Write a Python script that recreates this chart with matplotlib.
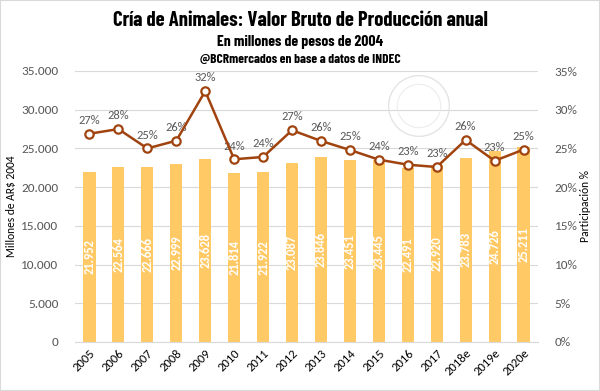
import matplotlib
matplotlib.use("Agg")
import matplotlib.pyplot as plt
from matplotlib.ticker import FuncFormatter, MultipleLocator
from matplotlib.patches import Rectangle, Circle
from matplotlib import font_manager

years = ["2005", "2006", "2007", "2008", "2009", "2010", "2011", "2012", "2013",
         "2014", "2015", "2016", "2017", "2018e", "2019e", "2020e"]
vbp = [21952, 22564, 22666, 22999, 23628, 21814, 21922, 23087, 23846,
       23451, 23445, 22491, 22920, 23783, 24726, 25211]
share = [26.9, 27.5, 25.0, 26.0, 32.4, 23.6, 23.9, 27.35, 25.97,
         24.8, 23.55, 22.9, 22.6, 26.1, 23.4, 24.85]
share_labels = ["27%", "28%", "25%", "26%", "32%", "24%", "24%", "27%", "26%",
                "25%", "24%", "23%", "23%", "26%", "23%", "25%"]

title = "Cría de Animales: Valor Bruto de Producción anual"
subtitle = "En millones de pesos de 2004"
source = "@BCRmercados en base a datos de INDEC"

files = {f.fname.split("/")[-1]: f.fname for f in font_manager.fontManager.ttflist}
names = {f.name for f in font_manager.fontManager.ttflist}
title_file = None
for cand in ("BarlowCondensed-Bold.ttf", "BarlowSemiCondensed-Bold.ttf", "DejaVuSansCondensed-Bold.ttf"):
    if cand in files:
        title_file = files[cand]
        break

body = "Carlito" if "Carlito" in names else "Lato"
plt.rcParams['font.family'] = [body, 'DejaVu Sans']
fs = 9 if body == "Carlito" else 8.5

fig = plt.figure(figsize=(6.0, 3.91), dpi=100)
ax = fig.add_axes([75/600, 1-342/391, (538-75)/600, (342-71)/391])
ax2 = ax.twinx()

grey = "#595959"
bar_c = "#FFC966"
line_c = "#A0430F"

x = list(range(len(years)))
ax.bar(x, vbp, width=0.42, color=bar_c, zorder=2)
for xi, v in zip(x, vbp):
    ax.text(xi, v/2, f"{v:,}".replace(",", "."), rotation=90, ha="center", va="center",
            color="white", fontsize=fs, fontweight="bold", zorder=3)

ax.set_ylim(0, 35000)
ax.set_xlim(-0.5, len(years)-0.5)
ax.yaxis.set_major_locator(MultipleLocator(5000))
ax.yaxis.set_major_formatter(FuncFormatter(lambda v, p: f"{int(v):,}".replace(",", ".")))
ax.grid(axis="y", color="#D9D9D9", linewidth=0.8, zorder=0)
ax.set_axisbelow(True)
ax.set_xticks(x)
ax.set_xticklabels(years, rotation=45, ha="right", rotation_mode="anchor", fontsize=fs, color="black")
ax.tick_params(axis="x", length=0, pad=4)
ax.tick_params(axis="y", length=0, labelsize=fs + 0.5, labelcolor=grey, pad=12)

ax2.plot(x, share, color=line_c, linewidth=1.8, marker="o", markersize=6,
         markerfacecolor="white", markeredgecolor=line_c, markeredgewidth=1.6, zorder=4)
for xi, s, lab in zip(x, share, share_labels):
    ax2.text(xi, s + 1.0, lab, ha="center", va="bottom", fontsize=fs, color=grey)
ax2.set_ylim(0, 35)
ax2.yaxis.set_major_locator(MultipleLocator(5))
ax2.yaxis.set_major_formatter(FuncFormatter(lambda v, p: f"{int(v)}%"))
ax2.tick_params(axis="y", length=0, labelsize=fs + 0.5, labelcolor=grey, pad=12)

for a in (ax, ax2):
    for sp in a.spines.values():
        sp.set_visible(False)
ax.spines["bottom"].set_visible(True)
ax.spines["bottom"].set_color("#D9D9D9")

ax.set_ylabel("Millones de AR$ 2004", fontsize=fs - 0.7, color="black")
ax.yaxis.set_label_coords(-58/463, 0.5)
ax2.set_ylabel("Participación %", fontsize=fs - 0.7, color="black")
ax2.yaxis.set_label_coords(1 + 42/463, 0.5)

# faint seal watermark
seal_ax = fig.add_axes([388/600, 1-137/391, 62/600, 62/391])
seal_ax.set_xlim(-1, 1); seal_ax.set_ylim(-1, 1); seal_ax.axis("off")
seal_ax.set_aspect("equal")
seal_ax.add_patch(Circle((0, 0), 0.98, fill=False, edgecolor="#E4E4E4", linewidth=1.0))
seal_ax.add_patch(Circle((0, 0), 0.70, fill=False, edgecolor="#ECECEC", linewidth=0.8))

renderer = fig.canvas.get_renderer()

def fitted(y, s, target_w, max_size):
    if title_file:
        fp = font_manager.FontProperties(fname=title_file, size=15)
    else:
        fp = font_manager.FontProperties(family="DejaVu Sans", weight="bold", stretch="condensed", size=15)
    t = fig.text(0.5, 1-y/391, s, ha="center", va="center", fontproperties=fp)
    w = t.get_window_extent(renderer=renderer).width
    t.set_fontsize(min(max_size, 15 * target_w / w))
    return t

fitted(21, title, 376, 20)
fitted(42, subtitle, 166, 13)
fitted(60, source, 201, 10)

fig.patches.append(Rectangle((0, 0), 1, 1, transform=fig.transFigure, fill=False,
                             edgecolor="#D9D9D9", linewidth=1.5))

fig.savefig("out.png", dpi=100)
